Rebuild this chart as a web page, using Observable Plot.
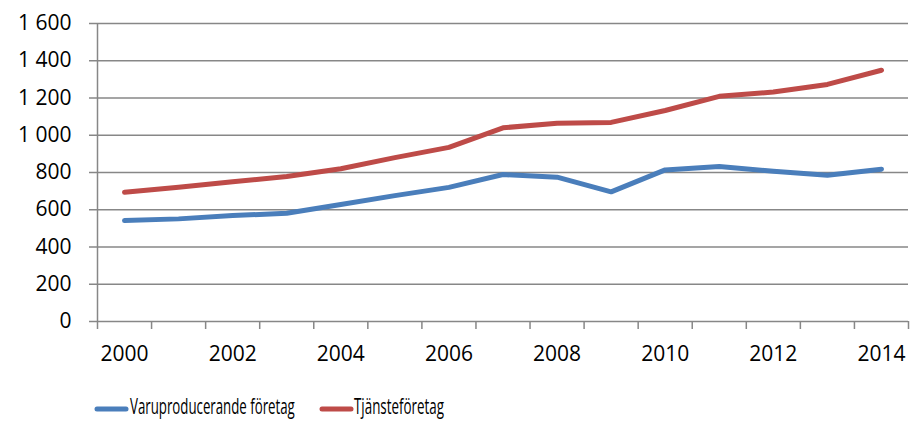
<!DOCTYPE html>
<html>
<head>
<meta charset="utf-8">
<script src="https://cdn.jsdelivr.net/npm/d3@7"></script>
<script src="https://cdn.jsdelivr.net/npm/@observablehq/plot@0.6"></script>
<style>
  html, body { margin: 0; padding: 0; background: #fff; }
  #wrap { position: relative; width: 912px; height: 421px; overflow: hidden; }
  #legend { position: absolute; left: 0; top: 0; width: 912px; height: 421px; }
</style>
</head>
<body>
<div id="wrap">
  <div id="chart"></div>
  <svg id="legend" width="912" height="421"></svg>
</div>
<script>
const years = [2000,2001,2002,2003,2004,2005,2006,2007,2008,2009,2010,2011,2012,2013,2014];
const varuproducerande = [542,551,569,581,628,676,720,789,775,696,814,832,807,785,818];
const tjansteforetag = [694,721,750,778,820,880,935,1040,1065,1069,1133,1209,1232,1273,1349];
const yTicks = [0,200,400,600,800,1000,1200,1400,1600];
const xLabels = [2000,2002,2004,2006,2008,2010,2012,2014];
const seriesNames = ["Varuproducerande företag", "Tjänsteföretag"];
const colors = ["#4A7EBB", "#BE4B48"];

const data = [];
years.forEach((yr, i) => {
  data.push({year: yr, value: varuproducerande[i], series: seriesNames[0]});
  data.push({year: yr, value: tjansteforetag[i], series: seriesNames[1]});
});
const boundaries = years.map(y => y - 0.5).concat([years[years.length - 1] + 0.5]);

const fmt = d => d3.format(",")(d).replace(/,/g, "\u00a0");

const chart = Plot.plot({
  width: 912,
  height: 380,
  marginLeft: 97,
  marginRight: 4,
  marginTop: 23,
  marginBottom: 59,
  style: {fontFamily: "'Open Sans', sans-serif", fontSize: "21px", color: "#000", background: "#fff"},
  x: {type: "linear", domain: [boundaries[0], boundaries[boundaries.length - 1]]},
  y: {domain: [0, 1600]},
  color: {domain: seriesNames, range: colors},
  marks: [
    Plot.ruleY(yTicks, {stroke: "#878787", strokeWidth: 1.5}),
    Plot.ruleX([boundaries[0]], {y1: 0, y2: 1600, stroke: "#878787", strokeWidth: 1.5}),
    Plot.axisY({ticks: yTicks, tickSize: 8, tickPadding: 18, tickFormat: fmt, stroke: "#878787", strokeWidth: 1.5, label: null, fontSize: 21}),
    Plot.axisX({ticks: boundaries, tickSize: 8, tickFormat: () => "", stroke: "#878787", strokeWidth: 1.5, label: null}),
    Plot.axisX({ticks: xLabels, tickSize: 0, tickPadding: 25, tickFormat: d => String(d), label: null,
                fontSize: 21, ariaLabel: "xlabels"}),
    Plot.line(data, {x: "year", y: "value", z: "series", stroke: "series", strokeWidth: 5,
                     strokeLinecap: "round", strokeLinejoin: "round"})
  ]
});
document.getElementById("chart").appendChild(chart);

// condense text horizontally (narrow face in reference) via a scale transform
function condense(sel, targetWidth) {
  sel.each(function() {
    const w = this.getComputedTextLength();
    if (!w) return;
    const k = Math.min(1, targetWidth / w);
    const cur = this.getAttribute("transform") || "";
    const x = +this.getAttribute("x") || 0;
    const y = +this.getAttribute("y") || 0;
    this.setAttribute("transform", `${cur} translate(${x},${y}) scale(${k},1) translate(${-x},${-y})`);
  });
}
condense(d3.select(chart).selectAll("g[aria-label='xlabels'] text"), 32);

// legend
const lg = d3.select("#legend");
const items = [
  {x1: 97, x2: 126, tx: 130, tw: 165},
  {x1: 322, x2: 351, tx: 354, tw: 90}
];
seriesNames.forEach((name, i) => {
  const it = items[i];
  lg.append("line").attr("x1", it.x1).attr("x2", it.x2).attr("y1", 409).attr("y2", 409)
    .attr("stroke", colors[i]).attr("stroke-width", 5).attr("stroke-linecap", "round");
  const t = lg.append("text").attr("x", it.tx).attr("y", 414)
    .attr("font-family", "'Open Sans', sans-serif").attr("font-size", 21).attr("fill", "#000")
    .text(name);
  condense(t, it.tw);
});
</script>
</body>
</html>
